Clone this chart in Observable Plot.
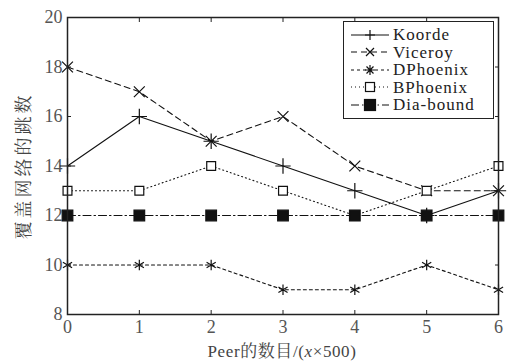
<!DOCTYPE html>
<html><head><meta charset="utf-8">
<script src="https://cdn.jsdelivr.net/npm/d3@7"></script>
<script src="https://cdn.jsdelivr.net/npm/@observablehq/plot@0.6"></script>
<style>
body{margin:0;background:#fff;}
#wrap{position:relative;width:517px;height:362px;color:#333;}
.serif{font-family:"Liberation Serif", serif;}
#legend{position:absolute;left:343px;top:21px;width:151px;height:98px;border:1px solid #222;background:#fff;box-sizing:border-box;}
.lg{position:absolute;left:0;height:17px;line-height:17px;display:flex;align-items:center;font-size:17px;letter-spacing:1px;color:#222;}
.lg svg{margin-left:7px;margin-right:4px;flex:none;}
#ylab{position:absolute;left:22px;top:166px;transform:translate(-50%,-50%) rotate(-90deg);font-size:18px;font-family:"Noto Serif CJK SC","Noto Sans CJK SC";white-space:nowrap;color:#444;letter-spacing:3px;line-height:20px;}
#xlab{position:absolute;left:282px;top:351px;transform:translate(-50%,-50%);font-size:17px;line-height:16px;white-space:nowrap;color:#444;letter-spacing:0.6px;}
</style></head>
<body><div id="wrap" class="serif"></div>
<script>
const xs = [0,1,2,3,4,5,6];
const names = ["Koorde","Viceroy","DPhoenix","BPhoenix","Dia-bound"];
const koorde = [14,16,15,14,13,12,13];
const viceroy = [18,17,15,16,14,13,13];
const dphoenix = [10,10,10,9,9,10,9];
const bphoenix = [13,13,14,13,12,13,14];
const diabound = [12,12,12,12,12,12,12];
const yTicks = [8,10,12,14,16,18,20];
const xTicks = [0,1,2,3,4,5,6];

const seriesVals = [koorde, viceroy, dphoenix, bphoenix, diabound];
const styles = [
  {dash:null, symbol:"plus", fill:"none", r:5},
  {dash:"6,4", symbol:"times", fill:"none", r:5},
  {dash:"3,3", symbol:"asterisk", fill:"none", r:5},
  {dash:"1,3", symbol:"square", fill:"white", r:5},
  {dash:"8,3,1.5,3", symbol:"square", fill:"#111", r:6}
];
const data = [];
names.forEach((n,i)=>xs.forEach((x,j)=>data.push({name:n, x, y:seriesVals[i][j]})));

const marks = [];
names.forEach((n,i)=>{
  const d = data.filter(e=>e.name===n);
  const st = styles[i];
  marks.push(Plot.line(d,{x:"x",y:"y",stroke:"#111",strokeWidth:1.1,strokeDasharray:st.dash}));
});
names.forEach((n,i)=>{
  const d = data.filter(e=>e.name===n);
  const st = styles[i];
  marks.push(Plot.dot(d,{x:"x",y:"y",symbol:()=>st.symbol,stroke:"#111",fill:st.fill,strokeWidth:1.2,r:st.r}));
});

const chart = Plot.plot({
  width:517, height:362,
  marginLeft:67, marginRight:19, marginTop:17, marginBottom:48,
  style:{fontSize:"18px", color:"#555", background:"white"},
  x:{domain:[0,6]},
  y:{domain:[8,20]},
  symbol:{domain:["plus","times","asterisk","square"], range:["plus","times","asterisk","square"]},
  marks:[
    Plot.axisX(xTicks,{anchor:"bottom",tickSize:-4,tickPadding:10,label:null,stroke:"#222"}),
    Plot.axisX(xTicks,{anchor:"top",tickSize:-4,tickFormat:()=>"",label:null,stroke:"#222"}),
    Plot.axisY(yTicks,{anchor:"left",tickSize:-4,tickPadding:9,label:null,stroke:"#222"}),
    Plot.axisY(yTicks,{anchor:"right",tickSize:-4,tickFormat:()=>"",label:null,stroke:"#222"}),
    ...marks,
    Plot.frame({stroke:"#222",strokeWidth:1.5})
  ]
});
chart.style.fontFamily = '"Liberation Serif", serif';
chart.querySelectorAll("text").forEach(t=>t.setAttribute("font-family","Liberation Serif"));
const wrap = document.getElementById("wrap");
wrap.appendChild(chart);
chart.style.position="absolute"; chart.style.left="0"; chart.style.top="0";

const leg = document.createElement("div"); leg.id="legend";
const symSvg = {
  plus:'<path d="M-5,0H5M0,-5V5" stroke="#111" stroke-width="1.2"/>',
  times:'<path d="M-4,-4L4,4M-4,4L4,-4" stroke="#111" stroke-width="1.2"/>',
  asterisk:'<path d="M-5,0H5M0,-5V5M-3.5,-3.5L3.5,3.5M-3.5,3.5L3.5,-3.5" stroke="#111" stroke-width="1.2"/>',
};
names.forEach((n,i)=>{
  const st = styles[i];
  const row = document.createElement("div"); row.className="lg serif";
  row.style.top=(4+i*17.5)+"px";
  let sym;
  if (st.symbol==="square") sym = `<rect x="${-st.r+0.5}" y="${-st.r+0.5}" width="${2*st.r-1}" height="${2*st.r-1}" fill="${st.fill}" stroke="#111" stroke-width="1.2"/>`;
  else sym = symSvg[st.symbol];
  row.innerHTML = `<svg width="38" height="14" viewBox="-19 -7 38 14"><line x1="-19" x2="19" y1="0" y2="0" stroke="#111" stroke-width="1.1" ${st.dash?`stroke-dasharray="${st.dash}"`:""}/>${sym}</svg><span style="font-family:'Liberation Serif'">${n}</span>`;
  leg.appendChild(row);
});
wrap.appendChild(leg);

const yl = document.createElement("div"); yl.id="ylab"; yl.textContent="覆盖网络的跳数"; wrap.appendChild(yl);
const xl = document.createElement("div"); xl.id="xlab"; xl.className="serif"; xl.innerHTML='Peer<span style="font-family:\'Noto Serif CJK SC\',\'Noto Sans CJK SC\'">的数目</span>/(<i>x</i>×500)'; wrap.appendChild(xl);
</script></body></html>
